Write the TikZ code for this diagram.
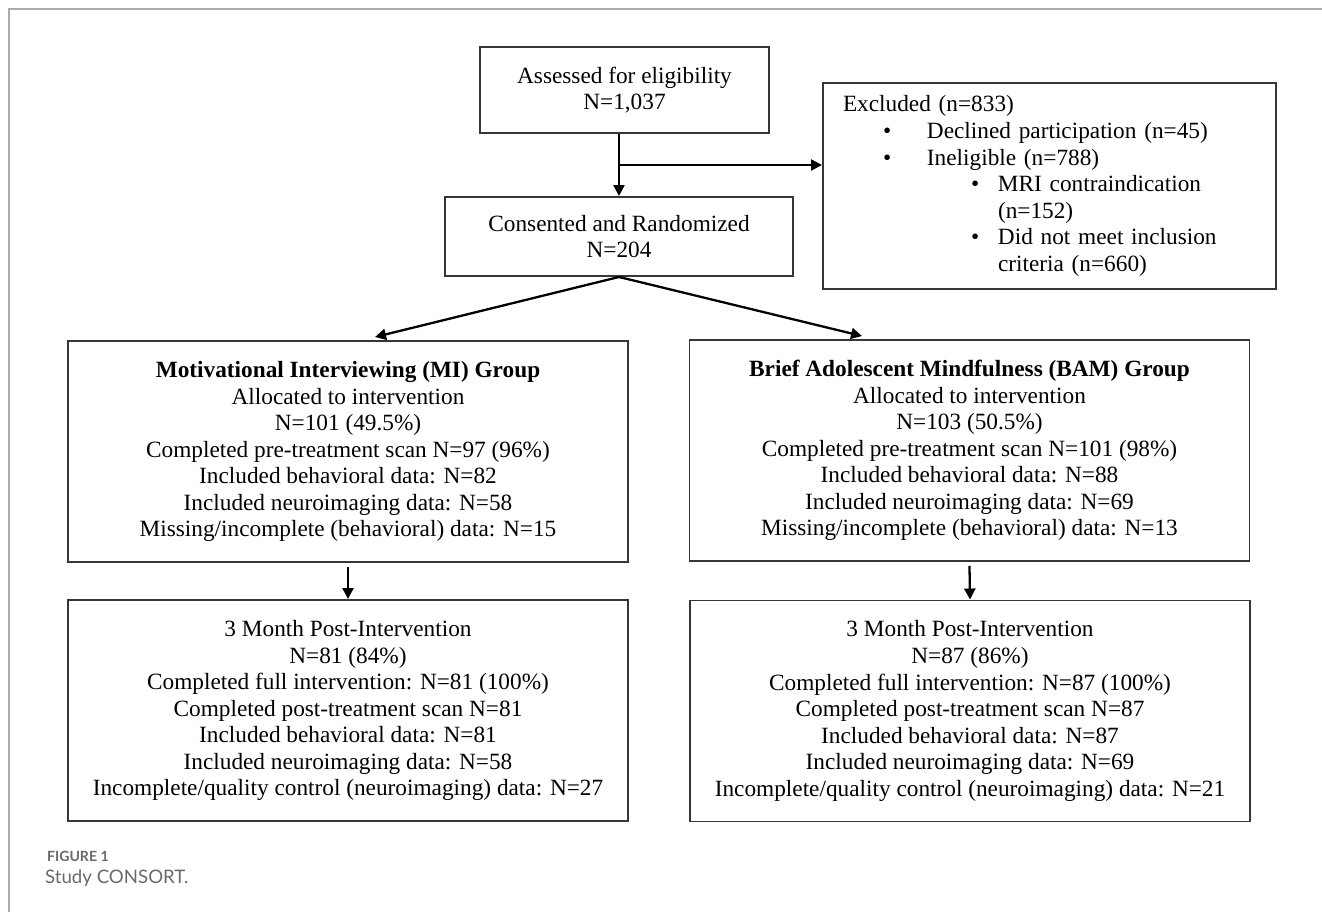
\documentclass[tikz,border=0pt]{standalone}
\usepackage{fontspec}
\setmainfont{Liberation Serif}
\newfontfamily\capfont{Lato}
\usepackage{tikz}
\usetikzlibrary{arrows.meta,positioning,calc}
\definecolor{boxline}{RGB}{55,55,55}
\definecolor{framegray}{RGB}{170,170,170}
\definecolor{capgray}{RGB}{105,105,110}

\begin{document}
\begin{tikzpicture}[>={Triangle[length=2.2mm,width=2.2mm]},
    box/.style={rectangle,draw=boxline,line width=1.1pt,align=center,inner sep=2pt,
      font=\fontsize{13.25pt}{15.1pt}\selectfont},
    grp/.style={box,minimum width=11.2cm,minimum height=4.42cm},
    arr/.style={->,line width=1.3pt}]
  \useasboundingbox (0,0) rectangle (26.44,-18.24);
  % page frame
  \draw[framegray,line width=1pt] (26.44,-0.18) -- (0.18,-0.18) -- (0.18,-18.24);
  % enrolment
  \node[box,minimum width=5.78cm,minimum height=1.72cm] (assess) at (12.49,-1.80)
    {Assessed for eligibility\\N=1,037};
  \node[box,minimum width=6.96cm,minimum height=1.58cm] (consent) at (12.38,-4.73)
    {Consented and Randomized\\N=204};
  \node[box,align=left,minimum width=9.06cm,minimum height=4.12cm,text width=8.26cm,
    inner xsep=0.4cm] (excl) at (20.99,-3.72)
    {Excluded (n=833)\\
     \hspace*{0.8cm}\makebox[0.88cm][l]{\textbullet}Declined participation (n=45)\\
     \hspace*{0.8cm}\makebox[0.88cm][l]{\textbullet}Ineligible (n=788)\\
     \hspace*{2.56cm}\makebox[0.54cm][l]{\textbullet}MRI contraindication\\
     \hspace*{3.1cm}(n=152)\\
     \hspace*{2.56cm}\makebox[0.54cm][l]{\textbullet}Did not meet inclusion\\
     \hspace*{3.1cm}criteria (n=660)};
  % allocation
  \node[grp] (mi) at (6.96,-9.03)
    {\textbf{Motivational Interviewing (MI) Group}\\Allocated to intervention\\N=101 (49.5\%)\\
     Completed pre-treatment scan N=97 (96\%)\\Included behavioral data: N=82\\
     Included neuroimaging data: N=58\\Missing/incomplete (behavioral) data: N=15};
  \node[grp] (bam) at (19.39,-9.01)
    {\textbf{Brief Adolescent Mindfulness (BAM) Group}\\Allocated to intervention\\N=103 (50.5\%)\\
     Completed pre-treatment scan N=101 (98\%)\\Included behavioral data: N=88\\
     Included neuroimaging data: N=69\\Missing/incomplete (behavioral) data: N=13};
  % follow-up
  \node[grp] (mipost) at (6.96,-14.21)
    {3 Month Post-Intervention\\N=81 (84\%)\\Completed full intervention: N=81 (100\%)\\
     Completed post-treatment scan N=81\\Included behavioral data: N=81\\
     Included neuroimaging data: N=58\\Incomplete/quality control (neuroimaging) data: N=27};
  \node[grp] (bampost) at (19.40,-14.22)
    {3 Month Post-Intervention\\N=87 (86\%)\\Completed full intervention: N=87 (100\%)\\
     Completed post-treatment scan N=87\\Included behavioral data: N=87\\
     Included neuroimaging data: N=69\\Incomplete/quality control (neuroimaging) data: N=21};
  % arrows
  \draw[arr] (assess.south -| consent.north) -- (consent.north);
  \coordinate (split) at ($(assess.south -| consent.north)!0.5!(consent.north)$);
  \draw[arr] (split) -- (split -| excl.west);
  \draw[arr] (consent.south) -- ([xshift=0.54cm,yshift=0.06cm]mi.north);
  \draw[arr] (consent.south) -- ([xshift=-2.15cm,yshift=0.06cm]bam.north);
  \draw[arr] ([yshift=-0.08cm]mi.south) -- (mipost.north);
  \draw[arr] ([yshift=-0.08cm]bam.south) -- (bampost.north);
  % caption
  \node[anchor=west,text=capgray,font=\capfont\bfseries\fontsize{8pt}{9.6pt}\selectfont]
    (figno) at (0.82,-17.13) {FIGURE 1};
  \node[anchor=west,text=capgray,font=\capfont\fontsize{10.6pt}{12.7pt}\selectfont]
    (figcap) at (0.78,-17.57) {Study CONSORT.};
\end{tikzpicture}
\end{document}
